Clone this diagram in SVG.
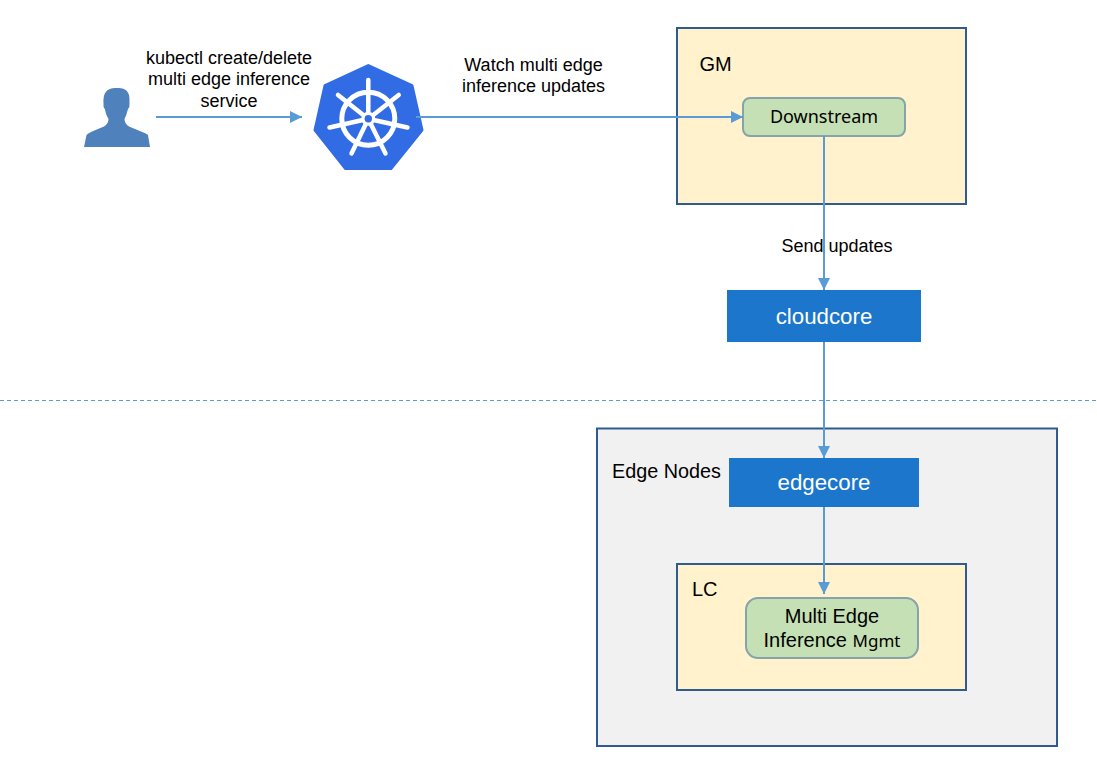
<svg xmlns="http://www.w3.org/2000/svg" width="1097" height="768" viewBox="0 0 1097 768">
<style>
text{font-family:"Liberation Sans",Arial,sans-serif;font-size:18px;fill:#000}
.m{text-anchor:middle}
.t{font-size:20px}
.w{fill:#fff;font-size:22.300px}
.y{fill:#fff2cc;stroke:#2f5b8f;stroke-width:2}
.g{fill:#c5e0b4;stroke:#84a3ab;stroke-width:2}
.b{fill:#1b76cc}
.c{fill:none;stroke:#5b9bd5;stroke-width:2}
.cj{font-family:"Noto Sans",sans-serif}
.sp{stroke:#fff;stroke-width:4.500;stroke-linecap:round;fill:none}
</style>
<defs>
<marker id="a" markerUnits="userSpaceOnUse" markerWidth="12" markerHeight="12" refX="12" refY="6" orient="auto"><path d="M0 0L12 6L0 12Z" fill="#5b9bd5"/></marker>
</defs>
<rect width="1097" height="768" fill="#fff"/>
<g id="edge-nodes"><rect x="597" y="428.500" width="460" height="317.500" fill="#f1f1f1" stroke="#2f5b8f" stroke-width="2"/><text class="t" x="612" y="478" style="font-size:19.800px">Edge Nodes</text></g>
<g id="gm"><rect class="y" x="677" y="28" width="289" height="176"/><text class="t" x="699.500" y="70.500">GM</text></g>
<g id="downstream"><rect class="g" x="743" y="98" width="162" height="38" rx="7"/><text class="m cj" x="824" y="123" style="font-size:18px">Downstream</text></g>
<g id="cloudcore"><rect class="b" x="727" y="290" width="194" height="52"/><text class="m w" x="824" y="324">cloudcore</text></g>
<g id="edgecore"><rect class="b" x="729" y="458" width="190" height="49"/><text class="m w" x="824" y="490">edgecore</text></g>
<g id="lc"><rect class="y" x="677" y="564" width="289" height="126"/><text class="t" x="692" y="596">LC</text></g>
<g id="mgmt"><rect class="g" x="746" y="598" width="172" height="60" rx="12"/><text class="m t" x="832" y="622.500">Multi Edge</text><text class="m t" x="832" y="647">Inference <tspan class="cj" style="font-size:17px">Mgmt</tspan></text></g>
<g id="user"><path fill="#4f81bd" d="M84 147L86.500 135Q88 133 92 131.500L104 126.500Q108.500 124 108.500 119Q106 115 104.800 109Q103 107 103.500 103C103.500 94 105 88 117 88C128.500 88 130 94 129.500 103Q130 107 128 109Q126.500 115 124.500 119Q124.500 124 129 126.500L141 131.500Q146 133 148 135L150 147Z"/></g>
<g id="kubernetes">
<path fill="#326ce5" stroke="#326ce5" stroke-width="3" stroke-linejoin="round" d="M368.300 65.500L412 85.500L422 130L391 168.500H345.500L315 130L325 85.500Z"/>
<circle cx="368.300" cy="118.700" r="26.500" fill="none" stroke="#fff" stroke-width="5"/>
<path class="sp" d="M368.300 80V114M338 95L364.500 116M398.700 95L372 116M329.500 127.500L364 119.800M407.500 127.500L372.500 119.800M351.500 153.500L366.300 123M385.500 153.500L370.300 123"/>
<circle cx="368.300" cy="118.700" r="7" fill="#fff"/>
<circle cx="368.300" cy="118.700" r="3.700" fill="#326ce5"/>
</g>
<g id="connectors">
<path class="c" marker-end="url(#a)" d="M156 117H302"/>
<path class="c" marker-end="url(#a)" d="M416 117H743"/>
<path class="c" marker-end="url(#a)" d="M824 136V290"/>
<path class="c" marker-end="url(#a)" d="M824 342V458"/>
<path class="c" marker-end="url(#a)" d="M824 507V594"/>
<path d="M0 400.500H1097" fill="none" stroke="#5b9bd5" stroke-width="1" stroke-dasharray="4 3"/>
</g>
<g id="labels">
<text class="m" x="229" y="64">kubectl create/delete</text>
<text class="m" x="229" y="85">multi edge inference</text>
<text class="m" x="229" y="107">service</text>
<text class="m" x="533.500" y="71">Watch multi edge</text>
<text class="m" x="533.500" y="92">inference updates</text>
<text class="m" x="837" y="252">Send updates</text>
</g>
</svg>
